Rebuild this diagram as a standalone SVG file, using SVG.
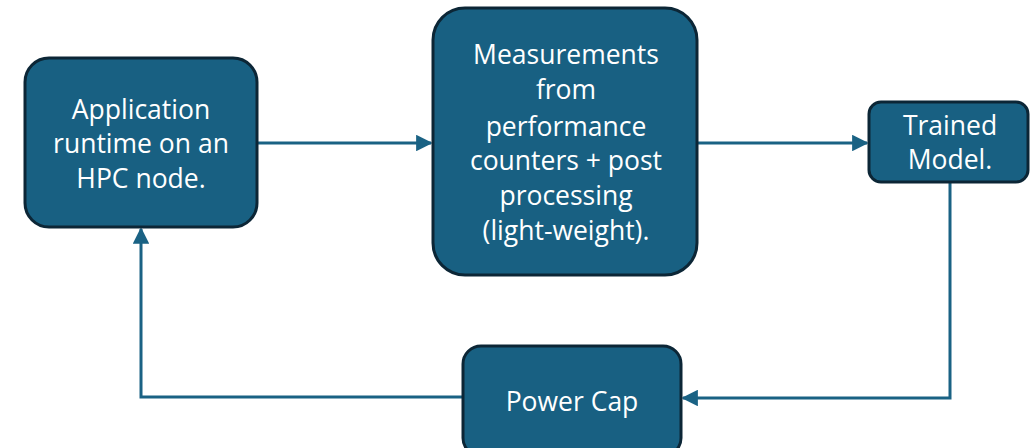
<svg xmlns="http://www.w3.org/2000/svg" width="1030" height="448" viewBox="0 0 1030 448">
  <style>
    .box { fill: #186082; stroke: #0c2636; stroke-width: 3; }
    .lbl { fill: #ffffff; font-family: "Open Sans", "Noto Sans", sans-serif; font-size: 26.5px; text-anchor: middle; }
    .wire { fill: none; stroke: #1a6284; stroke-width: 3; }
  </style>
  <defs>
    <marker id="arrow" viewBox="0 0 10 10" refX="9" refY="5" markerWidth="5.5" markerHeight="5.5" orient="auto" markerUnits="strokeWidth">
      <path d="M0,0 L10,5 L0,10 z" fill="#1a6284"/>
    </marker>
  </defs>

  <g id="connectors">
    <line class="wire" x1="258" y1="143" x2="431" y2="143" marker-end="url(#arrow)"/>
    <line class="wire" x1="697" y1="143" x2="867" y2="143" marker-end="url(#arrow)"/>
    <polyline class="wire" points="950,182 950,398 683,398" marker-end="url(#arrow)"/>
    <polyline class="wire" points="462,397 141,397 141,229" marker-end="url(#arrow)"/>
  </g>

  <g id="app-runtime">
    <rect class="box" x="25" y="58" width="232" height="169" rx="24"/>
    <text class="lbl" x="141" y="119">Application</text>
    <text class="lbl" x="141" y="153">runtime on an</text>
    <text class="lbl" x="141" y="188">HPC node.</text>
  </g>

  <g id="measurements">
    <rect class="box" x="433" y="8" width="264" height="267" rx="32"/>
    <text class="lbl" x="566" y="64">Measurements</text>
    <text class="lbl" x="566" y="99">from</text>
    <text class="lbl" x="566" y="136">performance</text>
    <text class="lbl" x="566" y="170">counters + post</text>
    <text class="lbl" x="566" y="205">processing</text>
    <text class="lbl" x="566" y="240">(light-weight).</text>
  </g>

  <g id="trained-model">
    <rect class="box" x="869" y="102" width="159" height="80" rx="12"/>
    <text class="lbl" x="950" y="135">Trained</text>
    <text class="lbl" x="950" y="169">Model.</text>
  </g>

  <g id="power-cap">
    <rect class="box" x="463" y="346" width="218" height="110" rx="18"/>
    <text class="lbl" x="572" y="411">Power Cap</text>
  </g>
</svg>
